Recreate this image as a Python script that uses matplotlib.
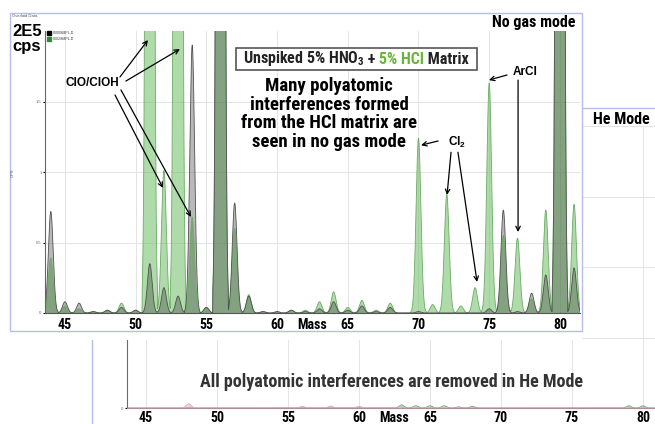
import numpy as np
import matplotlib
matplotlib.use("Agg")
import matplotlib.pyplot as plt
from matplotlib import font_manager
from matplotlib.patches import Rectangle

W, H = 655, 424

# ── data: peak heights per integer mass (units of 1E5 cps) ──────────────────
# peaks running off the top of the scale are given an estimated 25
masses = list(range(44, 82))
# 0000SMPL.D  – 5% HNO3 only (grey trace)
nogas_hno3 = [0.72, 0.08, 0.07, 0.01, 0.02, 0.04, 0.02, 0.35, 0.18, 0.12,
              1.90, 0.04, 25, 0.78, 0.12, 0.01, 0.01, 0.02, 0.01, 0.03,
              0.08, 0.02, 0.05, 0.01, 0.04, 0.00, 0.01, 0.00, 0.00, 0.00,
              0.00, 0.03, 0.73, 0.01, 0.14, 0.27, 25, 0.32]
# 0002SMPL.D  – 5% HNO3 + 5% HCl (green trace)
nogas_hcl = [0.39, 0.05, 0.03, 0.01, 0.02, 0.07, 0.02, 25, 1.01, 25,
             0.68, 0.04, 25, 0.60, 0.13, 0.01, 0.01, 0.02, 0.02, 0.08,
             0.15, 0.04, 0.09, 0.02, 0.07, 0.00, 1.24, 0.06, 0.84, 0.05,
             0.18, 1.63, 0.55, 0.53, 0.10, 0.73, 25, 0.77]
# He mode – everything is close to baseline
he_hno3 = [0.00, 0.00, 0.00, 0.00, 0.03, 0.00, 0.00, 0.00, 0.00, 0.00,
           0.00, 0.00, 0.012, 0.00, 0.014, 0.00, 0.012, 0.00, 0.00, 0.00,
           0.00, 0.00, 0.00, 0.00, 0.00, 0.00, 0.00, 0.00, 0.00, 0.00,
           0.00, 0.00, 0.00, 0.00, 0.00, 0.00, 0.00, 0.00]
he_hcl = [0.00, 0.00, 0.00, 0.00, 0.00, 0.00, 0.00, 0.00, 0.00, 0.00,
          0.00, 0.00, 0.00, 0.00, 0.00, 0.00, 0.00, 0.00, 0.00, 0.022,
          0.016, 0.016, 0.016, 0.008, 0.012, 0.00, 0.00, 0.00, 0.00, 0.00,
          0.00, 0.00, 0.00, 0.00, 0.00, 0.016, 0.016, 0.00]

xticks = [45, 50, 55, 60, 65, 70, 75, 80]


# ── fonts ───────────────────────────────────────────────────────────────────
def _pick(prefs, fallback):
    for name in prefs:
        for f in font_manager.fontManager.ttflist:
            if f.name == name and f.weight in (700, "bold") and "wght" not in f.fname:
                return name
    return fallback


COND = _pick(["Roboto Condensed", "Barlow Semi Condensed", "Asap Condensed",
              "Barlow Condensed", "Archivo Narrow"], "DejaVu Sans")
ARIAL = _pick(["Liberation Sans", "Arimo"], "DejaVu Sans")
plt.rcParams["font.family"] = [ARIAL, "DejaVu Sans"]
plt.rcParams["mathtext.fontset"] = "custom"
plt.rcParams["mathtext.rm"] = COND
plt.rcParams["mathtext.bf"] = COND + ":bold"

FRAME = "#b7bde6"
GREEN_RGB = (110 / 255, 190 / 255, 100 / 255)
GREY_RGB = (50 / 255, 50 / 255, 50 / 255)
HCL_GREEN = "#6cb33e"
GRIDC = "#e4e4e4"


def fx(px):
    return px / W


def fy(py):
    return 1 - py / H


def profile(x, heights, sigma=0.17):
    y = np.zeros_like(x)
    for m, h in zip(masses, heights):
        if h > 0:
            d = x - m
            y += np.where(np.abs(d) < 0.55, h * np.exp(-0.5 * (d / sigma) ** 2), 0)
    return y


def draw_pair(ax, x, ref, hcl, ref_col=GREY_RGB, ref_edge="#505050",
              hcl_col=GREEN_RGB, hcl_edge="#6aab64"):
    yg = profile(x, hcl)
    yr = profile(x, ref)
    ax.fill_between(x, 0, yg, color=hcl_col, alpha=0.55, lw=0)
    ax.plot(x, yg, color=hcl_edge, lw=0.6)
    ax.fill_between(x, 0, yr, color=ref_col, alpha=0.34, lw=0)
    ax.plot(x, yr, color=ref_edge, lw=0.6)


fig = plt.figure(figsize=(6.55, 4.24), dpi=100)
fig.patch.set_facecolor("white")

# ── back panel (He mode) ────────────────────────────────────────────────────
ax_hf = fig.add_axes([fx(92), -0.2, 1.0, fy(108) + 0.2], zorder=0)
ax_hf.set_xticks([]); ax_hf.set_yticks([])
for s in ("right", "bottom"):
    ax_hf.spines[s].set_visible(False)
for s in ("left", "top"):
    ax_hf.spines[s].set_color(FRAME)
    ax_hf.spines[s].set_linewidth(1.0)

ax_he = fig.add_axes([fx(127), fy(408), (655 - 127) / W, (408 - 126) / H], zorder=0.5)
x_he = np.linspace(43.6, 81.0, 5000)
draw_pair(ax_he, x_he, he_hno3, he_hcl, ref_col=(0.85, 0.45, 0.7),
          ref_edge="#d9a3c6", hcl_edge="#6aa865")
ax_he.set_xlim(43.66, 80.85)
ax_he.set_ylim(0, 2.0)
ax_he.set_xticks(xticks)
ax_he.set_yticks([0, 0.5, 1.0, 1.5, 2.0])
ax_he.set_yticklabels(["0", "", "", "", ""])
ax_he.grid(color=GRIDC, lw=0.7)
ax_he.set_axisbelow(True)
ax_he.spines["top"].set_visible(False)
ax_he.spines["right"].set_visible(False)
ax_he.spines["left"].set_color("#7a6464")
ax_he.spines["bottom"].set_color("#b08c94")
ax_he.tick_params(axis="x", length=0, pad=2, labelsize=10)
ax_he.tick_params(axis="y", length=1.5, pad=1, labelsize=3, labelcolor="#666")
for lab in ax_he.get_xticklabels():
    lab.set_fontfamily(COND); lab.set_fontweight("bold")
ax_he.text(62.5, -0.012, "Mass", transform=ax_he.get_xaxis_transform(),
           ha="center", va="top", fontsize=10, fontweight="bold", family=COND)

# ── front panel (no gas mode) ───────────────────────────────────────────────
ax_cover = fig.add_axes([0, fy(340), fx(582), 340 / H], zorder=1)
ax_cover.set_xticks([]); ax_cover.set_yticks([])
for s in ax_cover.spines.values():
    s.set_visible(False)
ax_cover.add_patch(Rectangle((fx(10), fy(331)), fx(582) - fx(10), (331 - 13) / H,
                             transform=fig.transFigure, fill=False,
                             edgecolor=FRAME, lw=1.0, clip_on=False))

ax = fig.add_axes([fx(45), fy(313), (580 - 45) / W, (313 - 31) / H], zorder=2)
ax.patch.set_alpha(0)
x_ng = np.linspace(43.5, 81.5, 6000)
draw_pair(ax, x_ng, nogas_hno3, nogas_hcl)
ax.set_xlim(43.59, 81.42)
ax.set_ylim(0, 2.0)
ax.set_xticks(xticks)
ax.set_yticks([0, 0.5, 1.0, 1.5])
ax.set_yticklabels(["0", "0.5", "1", "1.5"])
ax.grid(color=GRIDC, lw=0.7)
ax.set_axisbelow(True)
ax.spines["top"].set_visible(False)
ax.spines["right"].set_visible(False)
ax.spines["left"].set_color("#666666")
ax.spines["bottom"].set_color("#555555")
ax.tick_params(axis="x", length=0, pad=3.5, labelsize=10)
ax.tick_params(axis="y", length=1.5, pad=1, labelsize=3, labelcolor="#666")
for lab in ax.get_xticklabels():
    lab.set_fontfamily(COND); lab.set_fontweight("bold")
ax.text(62.5, -0.018, "Mass", transform=ax.get_xaxis_transform(),
        ha="center", va="top", fontsize=10, fontweight="bold", family=COND)

# arrows
arrow = dict(arrowstyle="->", color="black", lw=0.9, shrinkA=0, shrinkB=0,
             mutation_scale=8)
ax.text(46.91, 1.63, "ClO/ClOH", ha="center", va="center", fontsize=8.5,
        fontweight="bold")
for start, end in [((48.89, 1.674), (50.87, 1.936)),
                   ((49.31, 1.645), (53.13, 1.872)),
                   ((48.54, 1.546), (51.93, 0.887)),
                   ((48.96, 1.582), (53.91, 0.681))]:
    ax.annotate("", xy=end, xytext=start, arrowprops=arrow)

ax.text(72.72, 1.213, "Cl$_\\mathregular{2}$", ha="center", va="center",
        fontsize=8.5, fontweight="bold")
for start, end in [((71.38, 1.22), (70.18, 1.19)),
                   ((72.30, 1.14), (72.02, 0.837)),
                   ((72.79, 1.14), (74.14, 0.22))]:
    ax.annotate("", xy=end, xytext=start, arrowprops=arrow)

ax.text(77.53, 1.709, "ArCl", ha="center", va="center", fontsize=8.5,
        fontweight="bold")
for start, end in [((76.26, 1.688), (74.98, 1.652)),
                   ((77.04, 1.652), (77.04, 0.574))]:
    ax.annotate("", xy=end, xytext=start, arrowprops=arrow)

# ── texts ───────────────────────────────────────────────────────────────────
fig.text(fx(12), fy(16), "Overlaid Data", fontsize=3, color="#555",
         va="center", ha="left")
fig.text(fx(13), fy(173), "CPS", fontsize=3, color="#555", rotation=90,
         va="center", ha="center")
fig.text(fx(12), fy(31), "2E5", fontsize=12, fontweight="bold", va="center")
fig.text(fx(12), fy(47), "cps", fontsize=12, fontweight="bold", va="center")

# tiny legend
for py, col, name in [(33, "black", "0000SMPL.D"), (39, "#2e8b3a", "0002SMPL.D")]:
    fig.add_artist(Rectangle((fx(47), fy(py + 2)), 4 / W, 4 / H,
                             transform=fig.transFigure, color=col, zorder=5))
    fig.text(fx(53), fy(py), name, fontsize=2.6, color="#333", va="center")

fig.text(fx(575), fy(22), "No gas mode", fontsize=11.5, fontweight="bold",
         family=COND, ha="right", va="center")

fig.text(fx(329), fy(114),
         "Many polyatomic\ninterferences formed\nfrom the HCl matrix are\nseen in no gas mode",
         fontsize=13.5, fontweight="bold", family=COND, ha="center", va="center",
         linespacing=1.03)

# boxed matrix label with coloured part
fig.add_artist(Rectangle((fx(236), fy(70)), (477 - 236) / W, 22 / H,
                         transform=fig.transFigure, facecolor="white",
                         edgecolor="#555", lw=1.2, zorder=4))
renderer = fig.canvas.get_renderer()
parts = [("Unspiked 5% HNO$_\\mathregular{3}$", "#222"), (" + ", "#222"),
         ("5% HCl", HCL_GREEN), (" Matrix", "#222")]
objs = []
total = 0
for s, c in parts:
    t = fig.text(0, fy(59), s, fontsize=11.5, fontweight="bold", family=COND,
                 color=c, va="center", ha="left", zorder=6)
    w = t.get_window_extent(renderer).width
    objs.append((t, w))
    total += w
x0 = 356 * fig.dpi / 100 - total / 2
for t, w in objs:
    t.set_x(x0 / (W * fig.dpi / 100))
    x0 += w

fig.text(fx(650), fy(120), "He Mode", fontsize=11.5, fontweight="bold",
         family=COND, ha="right", va="center")
fig.text(fx(392), fy(382), "All polyatomic interferences are removed in He Mode",
         fontsize=13, fontweight="bold", family=COND, color="#333",
         ha="center", va="center")

fig.savefig("out.png", dpi=100, facecolor="white")
